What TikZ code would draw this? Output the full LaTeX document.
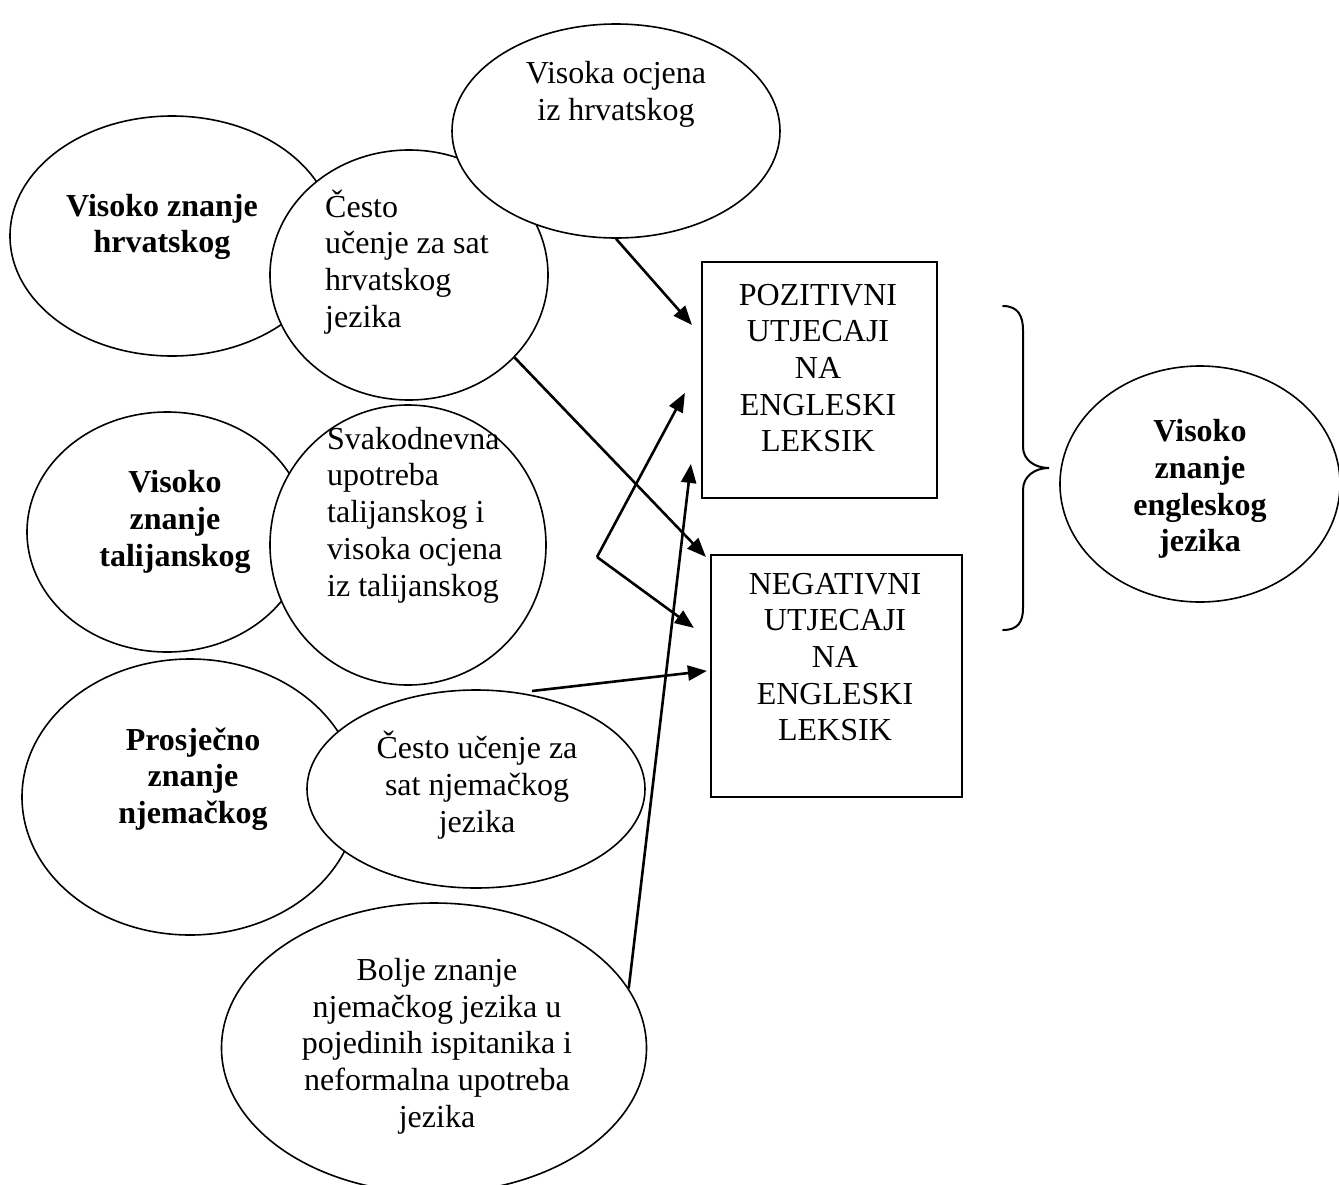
\documentclass[tikz,border=0pt]{standalone}
\usepackage{fontspec}
\setmainfont{Liberation Serif}
\usetikzlibrary{shapes.geometric,arrows.meta,calc}

\begin{document}
\begin{tikzpicture}[x=1pt,y=-1pt,
  oval/.style={draw, ellipse, line width=1.6pt, fill=white, inner sep=0pt},
  lbl/.style={align=center, inner sep=0pt, font=\fontsize{32}{36.7}\selectfont},
  lbll/.style={inner sep=0pt, align=left, anchor=west, font=\fontsize{32}{36.7}\selectfont},
  blbl/.style={align=center, inner sep=0pt, font=\fontsize{32}{36.7}\selectfont\bfseries},
  frame/.style={draw, line width=2.2pt, fill=white, inner sep=0pt},
  link/.style={-{Triangle[length=19pt,width=15pt]}, line width=2.6pt},
  bracket/.style={line width=2pt, line cap=round}
]
\useasboundingbox (0,0) rectangle (1339,1184);

% Croatian group
\node[oval, minimum width=324pt, minimum height=240pt] (e1) at (172,236) {};
\node[blbl] (e1t) at (162,227) {Visoko znanje\\hrvatskog};
\node[oval, minimum width=278pt, minimum height=250pt] (e2) at (409,275) {};
\node[lbll] (e2t) at (325,262) {Često\\učenje za sat\\hrvatskog\\jezika};
\node[oval, minimum width=328pt, minimum height=214pt] (e3) at (616,131) {};
\node[lbl] (e3t) at (616,94) {Visoka ocjena\\iz hrvatskog};

% Italian group
\node[oval, minimum width=280pt, minimum height=240pt] (e4) at (167,532) {};
\node[blbl] (e4t) at (175,522) {Visoko\\znanje\\talijanskog};
\node[oval, minimum width=276pt, minimum height=280pt] (e5) at (408,545) {};
\node[lbll] (e5t) at (327,515) {Svakodnevna\\upotreba\\talijanskog i\\visoka ocjena\\iz talijanskog};

% German group
\node[oval, minimum width=336pt, minimum height=276pt] (e6) at (190,797) {};
\node[blbl] (e6t) at (193,779) {Prosječno\\znanje\\njemačkog};
\node[oval, minimum width=338pt, minimum height=198pt] (e7) at (476,789) {};
\node[lbl] (e7t) at (477,785) {Često učenje za\\sat njemačkog\\jezika};
\node[oval, minimum width=425pt, minimum height=290pt] (e8) at (434,1048) {};
\node[lbl] (e8t) at (437,1046) {Bolje znanje\\njemačkog jezika u\\pojedinih ispitanika i\\neformalna upotreba\\jezika};

% Outcome
\node[oval, minimum width=280pt, minimum height=236pt] (e9) at (1200,484) {};
\node[blbl] (e9t) at (1200,489) {Visoko\\znanje\\engleskog\\jezika};

% Influence boxes
\node[frame, minimum width=235pt, minimum height=236pt] (p) at (819.5,380) {};
\node[lbl] (pt) at (818,368) {POZITIVNI\\UTJECAJI\\NA\\ENGLESKI\\LEKSIK};
\node[frame, minimum width=251pt, minimum height=242pt] (n) at (836.5,676) {};
\node[lbl] (nt) at (835,657) {NEGATIVNI\\UTJECAJI\\NA\\ENGLESKI\\LEKSIK};

% Connectors
\coordinate (fork) at (597,557);
\draw[link] (e3.south) -- ($(p.north west)+(-9,64)$);
\draw[link] (e2.-38) -- ($(n.north west)+(-4,3)$);
\draw[link] (fork) -- ($(p.north west)+(-16,132)$);
\draw[link] (fork) -- ($(n.north west)+(-16,74)$);
\draw[link] ($(e7.center)+(56,-98)$) -- ($(n.north west)+(-3,117)$);
\draw[link] (e8.17) -- ($(p.north west)+(-10,203)$);

% Brace joining both boxes
\draw[bracket] (1003,306) .. controls (1018,306) and (1023,316) .. (1023,330)
  -- (1023,447) .. controls (1023,460) and (1035,468) .. (1049,468)
  .. controls (1035,468) and (1023,476) .. (1023,490)
  -- (1023,608) .. controls (1023,622) and (1018,630) .. (1003,630);
\end{tikzpicture}
\end{document}
